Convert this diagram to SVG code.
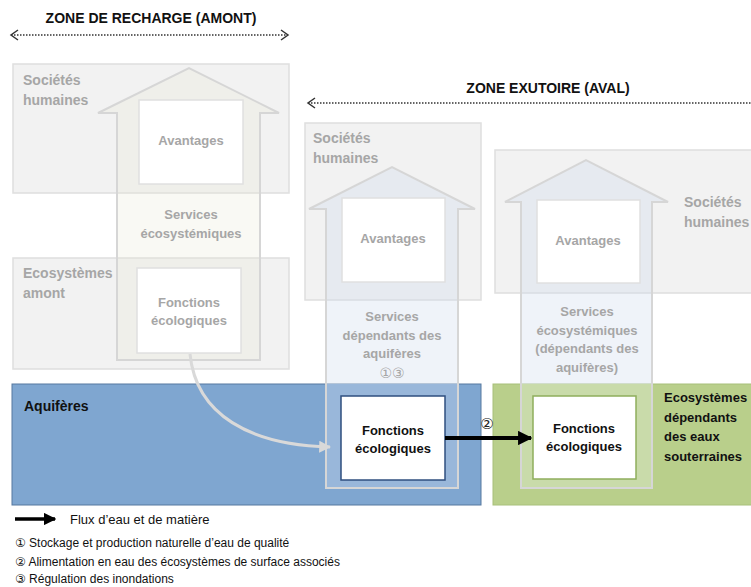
<svg xmlns="http://www.w3.org/2000/svg" width="751" height="587" viewBox="0 0 751 587">
<style>
text{font-family:"Liberation Sans",Arial,sans-serif}
.zone{fill:#f2f2f2;stroke:#dedede;stroke-width:1.5}
.lbl{fill:#a6a6a6;font-weight:bold;font-size:14px}
.glbl{fill:#a6a6a6;font-weight:bold;font-size:13px;text-anchor:middle}
.blbl{fill:#111;font-weight:bold;font-size:13px;text-anchor:middle}
.blk{fill:#111;font-weight:bold;font-size:14px}
.blk2{fill:#111;font-weight:bold;font-size:13px}
.hdr{fill:#111;font-weight:bold;font-size:14px;text-anchor:middle}
.arw{stroke:#d6d6d6;stroke-width:2;stroke-linejoin:miter}
.inner{fill:#fff;stroke:#e0e0e0;stroke-width:1.5}
.dots{stroke:#333;stroke-width:1.5;stroke-dasharray:1.5 1.5;fill:none}
.chev{stroke:#333;stroke-width:1.5;fill:none}
.leg{fill:#111;font-size:12px}
.circ{font-family:"DejaVu Sans",sans-serif}
</style>
<defs>
<marker id="gray-head" viewBox="0 0 10 10" refX="9" refY="5" markerWidth="4" markerHeight="4" orient="auto" markerUnits="strokeWidth">
<path d="M0,0 L10,5 L0,10 Z" fill="#d9d9d9"/>
</marker>
<marker id="black-head" viewBox="0 0 10 10" refX="9" refY="5" markerWidth="3.6" markerHeight="3.6" orient="auto" markerUnits="strokeWidth">
<path d="M0,0 L10,5 L0,10 Z" fill="#000"/>
</marker>
</defs>
<rect width="751" height="587" fill="#fff"/>

<!-- zone headers -->
<g id="zone-recharge">
<text class="hdr" x="151" y="23">ZONE DE RECHARGE (AMONT)</text>
<line class="dots" x1="11" y1="35" x2="288" y2="35"/>
<polyline class="chev" points="18,30 11,35 18,40"/>
<polyline class="chev" points="281,30 288,35 281,40"/>
</g>
<g id="zone-exutoire">
<text class="hdr" x="548" y="93">ZONE EXUTOIRE (AVAL)</text>
<line class="dots" x1="308" y1="103" x2="760" y2="103"/>
<polyline class="chev" points="315,98 308,103 315,108"/>
</g>

<!-- background zones -->
<g id="societes-amont">
<rect class="zone" x="13" y="64" width="276" height="129"/>
<text class="lbl" x="23" y="85">Sociétés</text>
<text class="lbl" x="23" y="105">humaines</text>
</g>
<g id="ecosystemes-amont">
<rect class="zone" x="13" y="258" width="276" height="111"/>
<text class="lbl" x="23" y="278">Ecosystèmes</text>
<text class="lbl" x="23" y="298">amont</text>
</g>
<g id="societes-aval-1">
<rect class="zone" x="305" y="123" width="176" height="177"/>
<text class="lbl" x="313" y="143">Sociétés</text>
<text class="lbl" x="313" y="163">humaines</text>
</g>
<g id="societes-aval-2">
<rect class="zone" x="495" y="150" width="270" height="143"/>
<text class="lbl" x="684" y="207">Sociétés</text>
<text class="lbl" x="684" y="227">humaines</text>
</g>
<g id="aquiferes">
<rect x="12" y="384" width="469" height="121" fill="#7fa6d0" stroke="#56799f" stroke-width="1"/>
<text class="blk" x="24" y="411">Aquifères</text>
</g>
<g id="ecosystemes-dependants">
<rect x="493" y="384" width="270" height="121" fill="#b9cf8b" stroke="#a8c07a" stroke-width="1"/>
<text class="blk2" x="664" y="402">Ecosystèmes</text>
<text class="blk2" x="664" y="422">dépendants</text>
<text class="blk2" x="664" y="441">des eaux</text>
<text class="blk2" x="664" y="461">souterraines</text>
</g>

<!-- big service arrows -->
<g id="arrow-amont">
<path d="M117,360 L117,113 L98,113 L189,68 L279,113 L260,113 L260,360 Z" fill="rgb(230,230,210)" fill-opacity="0.25" class="arw"/>
<text class="glbl" x="191" y="219">Services</text>
<text class="glbl" x="191" y="238">écosystémiques</text>
</g>
<g id="arrow-aval-1">
<path d="M326,488 L326,209 L309,209 L392,167 L475,209 L458,209 L458,488 Z" fill="rgb(205,218,235)" fill-opacity="0.32" stroke="none"/>
<rect x="326" y="384" width="132" height="104" fill="#99b7da"/>
<path d="M326,488 L326,209 L309,209 L392,167 L475,209 L458,209 L458,488 Z" fill="none" class="arw"/>
<text class="glbl" x="392" y="321">Services</text>
<text class="glbl" x="392" y="340">dépendants des</text>
<text class="glbl" x="392" y="358">aquifères</text>
<text class="circ" x="392" y="378" style="fill:#a6a6a6;font-size:14px;text-anchor:middle">①③</text>
</g>
<g id="arrow-aval-2">
<path d="M521,488 L521,202 L505,202 L586,160 L668,202 L652,202 L652,488 Z" fill="rgb(205,218,235)" fill-opacity="0.32" stroke="none"/>
<rect x="521" y="384" width="131" height="104" fill="#c9dbaa"/>
<path d="M521,488 L521,202 L505,202 L586,160 L668,202 L652,202 L652,488 Z" fill="none" class="arw"/>
<text class="glbl" x="587" y="316">Services</text>
<text class="glbl" x="587" y="335">écosystémiques</text>
<text class="glbl" x="587" y="353">(dépendants des</text>
<text class="glbl" x="587" y="372">aquifères)</text>
</g>

<!-- inner boxes -->
<g id="avantages-amont">
<rect class="inner" x="139" y="100" width="104" height="84"/>
<text class="glbl" x="191" y="145">Avantages</text>
</g>
<g id="fonctions-amont">
<rect class="inner" x="137" y="268" width="104" height="85"/>
<text class="glbl" x="189" y="307">Fonctions</text>
<text class="glbl" x="189" y="325">écologiques</text>
</g>
<g id="avantages-aval-1">
<rect class="inner" x="342" y="198" width="103" height="84"/>
<text class="glbl" x="393" y="243">Avantages</text>
</g>
<g id="avantages-aval-2">
<rect class="inner" x="537" y="200" width="103" height="83"/>
<text class="glbl" x="588" y="245">Avantages</text>
</g>
<g id="fonctions-aquiferes">
<rect x="341" y="396" width="104" height="84" fill="#fff" stroke="#2f4f7f" stroke-width="1.5"/>
<text class="blbl" x="393" y="435">Fonctions</text>
<text class="blbl" x="393" y="453">écologiques</text>
</g>
<g id="fonctions-ecosystemes">
<rect x="533" y="396" width="103" height="83" fill="#fff" stroke="#8fae5c" stroke-width="1.5"/>
<text class="blbl" x="584" y="433">Fonctions</text>
<text class="blbl" x="584" y="451">écologiques</text>
</g>

<!-- connectors -->
<g id="connectors">
<path d="M190,354 C196,415 250,445 330,447" fill="none" stroke="#d9d9d9" stroke-width="3" marker-end="url(#gray-head)"/>
<line x1="445" y1="438" x2="531" y2="438" stroke="#000" stroke-width="4" marker-end="url(#black-head)"/>
<text class="circ" x="487" y="429" style="fill:#222;font-size:15px;text-anchor:middle">②</text>
</g>

<!-- legend -->
<g id="legend">
<line x1="15" y1="519" x2="55" y2="519" stroke="#000" stroke-width="3.5" marker-end="url(#black-head)"/>
<text x="70" y="524" style="fill:#111;font-size:13px">Flux d’eau et de matière</text>
<text class="leg" x="15" y="547"><tspan class="circ">①</tspan> Stockage et production naturelle d’eau de qualité</text>
<text class="leg" x="15" y="566"><tspan class="circ">②</tspan> Alimentation en eau des écosystèmes de surface associés</text>
<text class="leg" x="15" y="583"><tspan class="circ">③</tspan> Régulation des inondations</text>
</g>
</svg>
